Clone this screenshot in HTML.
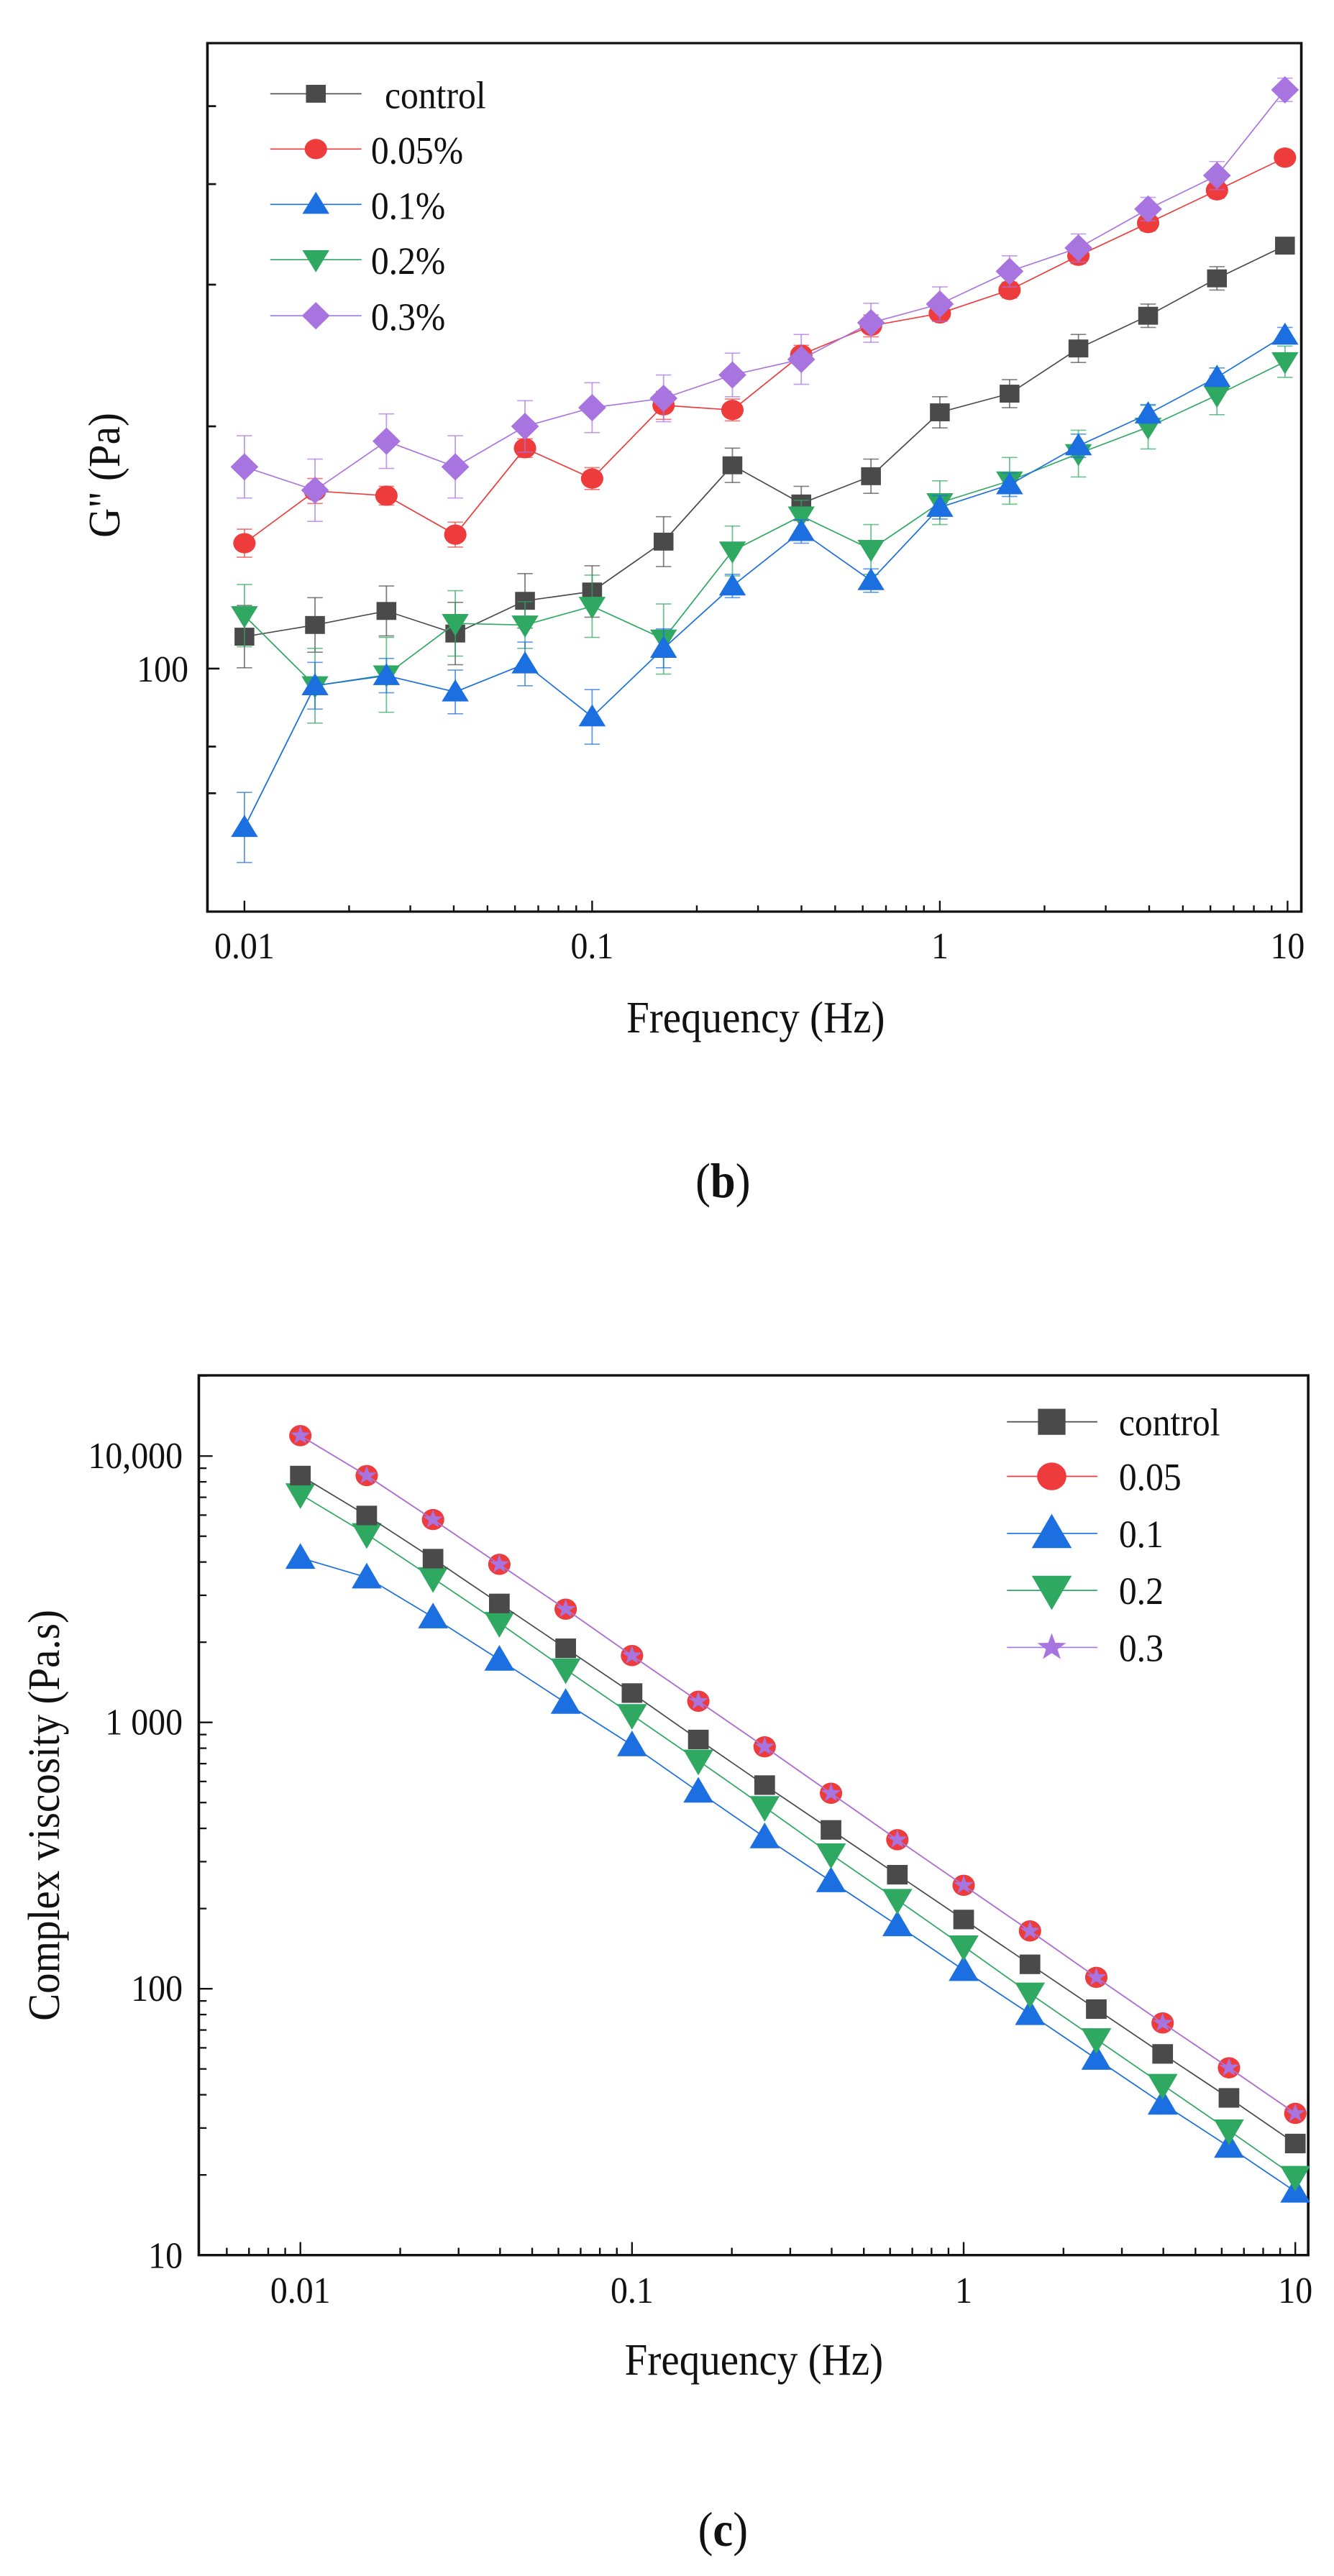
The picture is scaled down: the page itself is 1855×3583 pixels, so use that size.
<!DOCTYPE html>
<html><head><meta charset="utf-8"><style>html,body{margin:0;padding:0;background:#fff}svg{display:block}text{font-family:"Liberation Serif","Times New Roman",serif;fill:#111}</style></head>
<body>
<svg id="s" width="1855" height="3583" viewBox="0 0 1855 3583" xmlns="http://www.w3.org/2000/svg">
<rect width="1855" height="3583" fill="#fff"/>
<g id="b" transform="translate(0,0.4) scale(1.1968,1.0834)"></g>
<g id="c" transform="translate(0,1802) scale(1.1968,1.133)"></g>
<g id="t"></g>
</svg>
<script>
const NS="http://www.w3.org/2000/svg";
function el(p,t,a,txt){const e=document.createElementNS(NS,t);for(const k in a)e.setAttribute(k,a[k]);if(txt!==undefined)e.textContent=txt;p.appendChild(e);return e;}
const T=document.getElementById('t');
function tx(x,y,s,str,anchor,rot){const a={x:0,y:0,'font-size':s,'font-family':'Liberation Serif, serif','text-anchor':anchor||'start',transform:`translate(${x},${y})`+(rot?' rotate(-90)':'')+' scale(0.92,1)'};return el(T,'text',a,str);}
function lab(x,y,letter){const t=tx(x,y,68,'','middle');el(t,'tspan',{},'(');el(t,'tspan',{'font-weight':'bold'},letter);el(t,'tspan',{},')');}
function marker(g,type,x,y,s,col){
 if(type=='sq')el(g,'rect',{x:x-s/2,y:y-s/2,width:s,height:s,fill:col});
 else if(type=='ci')el(g,'circle',{cx:x,cy:y,r:s/2,fill:col});
 else if(type=='up')el(g,'polygon',{points:`${x},${y-s*0.6} ${x-s*0.58},${y+s*0.45} ${x+s*0.58},${y+s*0.45}`,fill:col});
 else if(type=='dn')el(g,'polygon',{points:`${x},${y+s*0.6} ${x-s*0.58},${y-s*0.45} ${x+s*0.58},${y-s*0.45}`,fill:col});
 else if(type=='di')el(g,'polygon',{points:`${x},${y-s*0.65} ${x+s*0.6},${y} ${x},${y+s*0.65} ${x-s*0.6},${y}`,fill:col});
 else if(type=='st'){let p=[];for(let i=0;i<10;i++){const r=i%2?s*0.22:s*0.55;const a=-Math.PI/2+i*Math.PI/5;p.push((x+r*Math.cos(a)).toFixed(1)+','+(y+r*Math.sin(a)).toFixed(1));}el(g,'polygon',{points:p.join(' '),fill:col});}
}
const cols={k:'#4a4a4a',r:'#ee3b3b',b:'#1b6fe0',g:'#2fa862',p:'#a874e0'};
const SX=1.1968;
(function(){
const g=document.getElementById('b');
const ry=z=>0.4+1.0834*z;
const L=241,R=1512,Tp=55,B=1170;
const X0=284,DEC=(1496-284)/3;
for(let d=0;d<4;d++){for(let m=1;m<10;m++){const v=-2+d+Math.log10(m);if(v>1.02)continue;const x=X0+(v+2)*DEC;if(x<L||x>R)continue;el(g,'line',{x1:x,x2:x,y1:B,y2:B-(m==1?14:8),stroke:'#111','stroke-width':2});}}
[8,9].forEach(m=>{const x=X0+(Math.log10(m)-3)*DEC;el(g,'line',{x1:x,x2:x,y1:B,y2:B-8,stroke:'#111','stroke-width':2});});
['0.01','0.1','1','10'].forEach((t,i)=>tx((X0+i*DEC)*SX,1333,52,t,'middle'));
const Y100=858,YD=(858-547)/Math.log10(2);
[70,80,100,200,300,400,500].forEach(v=>{const y=Y100-YD*Math.log10(v/100);el(g,'line',{x1:L,x2:L+(v==100?14:10),y1:y,y2:y,stroke:'#111','stroke-width':2.5});});
tx(262,ry(858)+18,52,'100','end');
el(g,'rect',{x:L,y:Tp,width:R-L,height:B-Tp,fill:'none',stroke:'#111','stroke-width':3});
tx(878*SX,1436,62,'Frequency (Hz)','middle');
tx(166,661,62,'G" (Pa)','middle',true);
lab(840*SX,1665,'b');
const xs=[284,366,449,529,610,688,771,851,931,1012,1092,1173,1253,1334,1414,1493];
const S=[
 ['k','sq',[817,802,784,813,771,759,695,597,646,611,529,505,447,405,357,315],[40,35,32,40,35,33,32,22,22,22,20,18,18,15,15,10]],
 ['g','dn',[790,880,866,800,802,778,820,707,662,705,645,617,582,548,507,464],[40,48,48,42,30,40,45,32,20,32,28,30,30,28,25,20]],
 ['b','up',[1062,880,867,888,852,920,832,752,682,745,651,622,572,531,484,430],[45,30,22,28,28,35,25,15,15,15,15,15,15,12,12,10]],
 ['r','ci',[697,630,636,686,575,614,520,526,455,418,402,372,328,286,244,202],[18,16,12,16,12,14,18,14,12,14,10,10,10,10,10,8]],
 ['p','di',[599,629,566,599,547,523,511,481,461,414,390,348,318,268,225,115],[40,40,35,40,33,32,30,28,32,25,22,20,18,15,18,15]]
];
S.forEach(([c,t,ys,es])=>{
 ys.forEach((y,i)=>{const o={stroke:cols[c],'stroke-width':1.5,opacity:0.7};el(g,'line',Object.assign({x1:xs[i],x2:xs[i],y1:y-es[i],y2:y+es[i]},o));el(g,'line',Object.assign({x1:xs[i]-9,x2:xs[i]+9,y1:y-es[i],y2:y-es[i]},o));el(g,'line',Object.assign({x1:xs[i]-9,x2:xs[i]+9,y1:y+es[i],y2:y+es[i]},o));});
 el(g,'polyline',{points:ys.map((y,i)=>xs[i]+','+y).join(' '),fill:'none',stroke:cols[c],'stroke-width':1.5});
 ys.forEach((y,i)=>marker(g,t,xs[i],y,t=='sq'?23:(t=='ci'?26:27),cols[c]));
});
const LG=[['k','sq','control',120,447],['r','ci','0.05%',191,431],['b','up','0.1%',262,431],['g','dn','0.2%',333,431],['p','di','0.3%',405,431]];
LG.forEach(([c,t,n,y,x])=>{el(g,'line',{x1:314,x2:420,y1:y,y2:y,stroke:cols[c],'stroke-width':1.5});marker(g,t,367,y,t=='sq'?23:(t=='ci'?26:27),cols[c]);tx(x*SX,ry(y)+20,54,n);});
})();
(function(){
const g=document.getElementById('c');
const ry=z=>1802+1.133*z;
const L=231,R=1520,Tp=98,B=1178;
const X0=349,DEC=(1505-349)/3;
for(let d=-1;d<4;d++){for(let m=1;m<10;m++){const v=-2+d+Math.log10(m);const x=X0+(v+2)*DEC;if(x<L+5||x>R)continue;el(g,'line',{x1:x,x2:x,y1:B,y2:B-(m==1?16:9),stroke:'#111','stroke-width':2});}}
['0.01','0.1','1','10'].forEach((t,i)=>tx((X0+i*DEC)*SX,3203,52,t,'middle'));
const YD=327;
for(let d=0;d<4;d++){for(let m=1;m<10;m++){const y=1178-YD*(d+Math.log10(m));if(y<Tp)continue;el(g,'line',{x1:L,x2:L+(m==1?16:9),y1:y,y2:y,stroke:'#111','stroke-width':2});}}
[['10',1178],['100',850],['1 000',523],['10,000',196]].forEach(([t,y])=>tx(254,ry(y)+18,52,t,'end'));
el(g,'rect',{x:L,y:Tp,width:R-L,height:B-Tp,fill:'none',stroke:'#111','stroke-width':3});
tx(876*SX,3303,62,'Frequency (Hz)','middle');
tx(82,2525,62,'Complex viscosity (Pa.s)','middle',true);
lab(840*SX,3541,'c');
const xs=[];for(let i=0;i<16;i++)xs.push(349+i*DEC*0.2);
const S=[
 ['b','up',[322,346,395,447,500,552,609,665,719,773,828,882,937,992,1045,1100]],
 ['g','dn',[244,293,347,402,459,515,571,628,686,742,799,857,913,969,1025,1082]],
 ['k','sq',[221,270,323,378,433,488,545,601,656,711,766,821,876,931,985,1041]],
 ['r','ci',[172,221,275,330,385,442,498,554,611,668,724,780,837,893,948,1004]],
 ['p','st',[172,221,275,330,385,442,498,554,611,668,724,780,837,893,948,1004]]
];
S.forEach(([c,t,ys])=>{
 el(g,'polyline',{points:ys.map((y,i)=>xs[i]+','+y).join(' '),fill:'none',stroke:cols[c],'stroke-width':1.5});
 ys.forEach((y,i)=>marker(g,t,xs[i],y,t=='sq'?24:(t=='ci'?26:(t=='st'?22:30)),cols[c]));
});
const LG=[['k','sq','control',155],['r','ci','0.05',222],['b','up','0.1',292],['g','dn','0.2',362],['p','st','0.3',432]];
LG.forEach(([c,t,n,y])=>{el(g,'line',{x1:1170,x2:1275,y1:y,y2:y,stroke:cols[c],'stroke-width':1.5});marker(g,t,1222,y,t=='sq'?32:(t=='ci'?34:(t=='st'?32:40)),cols[c]);tx(1300*SX,ry(y)+19,54,n);});
})();
</script>
</body></html>
